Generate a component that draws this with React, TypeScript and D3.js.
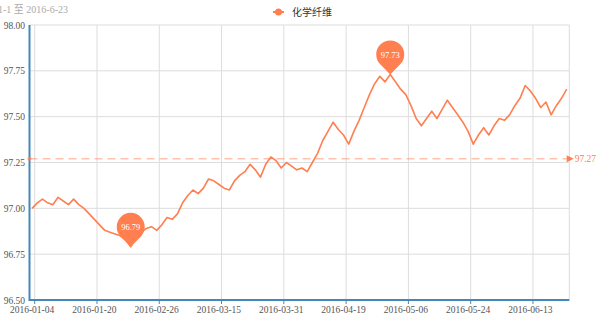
import React from "react";
import * as d3 from "d3";

const SERIES_NAME = "化学纤维";
const SUBTITLE = "2016-1-1 至 2016-6-23";

const dates: string[] = [
  "2016-01-04","2016-01-05","2016-01-06","2016-01-07","2016-01-08","2016-01-11","2016-01-12","2016-01-13","2016-01-14","2016-01-15","2016-01-18","2016-01-19",
  "2016-01-20","2016-01-21","2016-01-22","2016-01-25","2016-01-26","2016-01-27","2016-01-28","2016-01-29","2016-02-01","2016-02-02","2016-02-03","2016-02-04",
  "2016-02-26","2016-02-29","2016-03-01","2016-03-02","2016-03-03","2016-03-04","2016-03-07","2016-03-08","2016-03-09","2016-03-10","2016-03-11","2016-03-14",
  "2016-03-15","2016-03-16","2016-03-17","2016-03-18","2016-03-21","2016-03-22","2016-03-23","2016-03-24","2016-03-25","2016-03-28","2016-03-29","2016-03-30",
  "2016-03-31","2016-04-01","2016-04-05","2016-04-06","2016-04-07","2016-04-08","2016-04-11","2016-04-12","2016-04-13","2016-04-14","2016-04-15","2016-04-18",
  "2016-04-19","2016-04-20","2016-04-21","2016-04-22","2016-04-25","2016-04-26","2016-04-27","2016-04-28","2016-04-29","2016-05-03","2016-05-04","2016-05-05",
  "2016-05-06","2016-05-09","2016-05-10","2016-05-11","2016-05-12","2016-05-13","2016-05-16","2016-05-17","2016-05-18","2016-05-19","2016-05-20","2016-05-23",
  "2016-05-24","2016-05-25","2016-05-26","2016-05-27","2016-05-30","2016-05-31","2016-06-01","2016-06-02","2016-06-03","2016-06-06","2016-06-07","2016-06-08",
  "2016-06-13","2016-06-14","2016-06-15","2016-06-16","2016-06-17","2016-06-20","2016-06-21","2016-06-22",
];

const values: number[] = [
  97.00, 97.03, 97.05, 97.03, 97.02, 97.06, 97.04, 97.02, 97.05, 97.02, 97.00, 96.97,
  96.94, 96.91, 96.88, 96.87, 96.86, 96.85, 96.83, 96.79, 96.84, 96.87, 96.89, 96.90,
  96.88, 96.91, 96.95, 96.94, 96.97, 97.03, 97.07, 97.10, 97.08, 97.11, 97.16, 97.15,
  97.13, 97.11, 97.10, 97.15, 97.18, 97.20, 97.24, 97.21, 97.17, 97.24, 97.28, 97.26,
  97.22, 97.25, 97.23, 97.21, 97.22, 97.20, 97.25, 97.30, 97.37, 97.42, 97.47, 97.43,
  97.40, 97.35, 97.42, 97.48, 97.55, 97.62, 97.68, 97.72, 97.69, 97.73, 97.69, 97.65,
  97.62, 97.56, 97.49, 97.45, 97.49, 97.53, 97.49, 97.54, 97.59, 97.55, 97.51, 97.47,
  97.42, 97.35, 97.40, 97.44, 97.40, 97.45, 97.49, 97.48, 97.51, 97.56, 97.60, 97.67,
  97.64, 97.60, 97.55, 97.58, 97.51, 97.56, 97.60, 97.65,
];

const yTicks: number[] = [96.5, 96.75, 97.0, 97.25, 97.5, 97.75, 98.0];
const AVERAGE = 97.27;
const LABEL_INTERVAL = 12;

const COLOR = "#ff7f50";
const AXIS = "#4488bb";
const FONT = "'Liberation Serif', 'Noto Sans CJK SC', serif";

function pinPath(cx: number, ty: number, w: number, h: number): string {
  const r = w / 2;
  const cy = ty - h + r;
  const d = ty - cy;
  const th = Math.acos(r / d);
  const px = r * Math.sin(th);
  const py = cy + r * Math.cos(th);
  return `M${cx},${ty} L${cx - px},${py} A${r},${r} 0 1 1 ${cx + px},${py} Z`;
}

export default function App() {
  const W = 600, H = 326;
  const left = 29.5, right = 569.3, top = 25, bottom = 300;
  const x = d3.scaleBand<string>().domain(dates).range([left, right]);
  const bw = x.bandwidth();
  const cx = (d: string) => (x(d) as number) + bw / 2;
  const y = d3.scaleLinear().domain([96.5, 98]).range([bottom, top]);

  const line = d3
    .line<number>()
    .x((_, i) => cx(dates[i]))
    .y((v) => y(v));

  const tickIdx = dates.map((_, i) => i).filter((i) => i % LABEL_INTERVAL === 0);

  const maxV = d3.max(values) as number;
  const minV = d3.min(values) as number;
  const maxI = values.indexOf(maxV);
  const minI = values.indexOf(minV);

  const avgY = y(AVERAGE);
  const lastX = cx(dates[dates.length - 1]);

  return (
    <svg width={W} height={H} style={{ position: "absolute", left: 0, top: 0, background: "#fff" }}>
      {/* subtitle */}
      <text x={68} y={13} textAnchor="end" fontSize={10} fill="#aaa" fontFamily={FONT}>
        {SUBTITLE}
      </text>
      {/* legend */}
      <g>
        <line x1={273} x2={284} y1={12} y2={12} stroke={COLOR} strokeWidth={2} />
        <circle cx={278.5} cy={12} r={3.5} fill={COLOR} />
        <text x={292} y={15.5} fontSize={10} fill="#333" fontFamily={FONT}>
          {SERIES_NAME}
        </text>
      </g>
      {/* horizontal grid */}
      {yTicks.map((t) => (
        <line key={"h" + t} x1={left} x2={right} y1={y(t)} y2={y(t)} stroke="#ddd" strokeWidth={1} />
      ))}
      {/* vertical grid */}
      {tickIdx.map((i) => {
        const tx = (x(dates[i]) as number) + bw;
        return <line key={"v" + i} x1={tx} x2={tx} y1={top} y2={bottom} stroke="#ddd" strokeWidth={1} />;
      })}
      <line x1={right} x2={right} y1={top} y2={bottom} stroke="#ddd" strokeWidth={1} />
      {/* y labels */}
      {yTicks.map((t) => (
        <text key={"yl" + t} x={25} y={y(t) + 3.5} textAnchor="end" fontSize={9.5} fill="#555" fontFamily={FONT}>
          {t.toFixed(2)}
        </text>
      ))}
      {/* x ticks + labels */}
      {tickIdx.map((i) => {
        const tx = (x(dates[i]) as number) + bw;
        return (
          <g key={"xt" + i}>
            <line x1={tx} x2={tx} y1={bottom} y2={bottom + 4} stroke={AXIS} strokeWidth={1} />
            <text x={cx(dates[i])} y={313} textAnchor="middle" fontSize={9.5} fill="#555" fontFamily={FONT}>
              {dates[i]}
            </text>
          </g>
        );
      })}
      {/* axes */}
      <line x1={left} x2={left} y1={top} y2={bottom + 1} stroke={AXIS} strokeWidth={2} />
      <line x1={left} x2={right} y1={bottom} y2={bottom} stroke={AXIS} strokeWidth={2} />
      {/* average markLine */}
      <g>
        <line x1={left} x2={lastX} y1={avgY} y2={avgY} stroke={COLOR} strokeOpacity={0.7} strokeWidth={1} strokeDasharray="8,5" />
        <circle cx={left} cy={avgY} r={2} fill={COLOR} fillOpacity={0.8} />
        <path d={`M${lastX},${avgY - 3.5} L${lastX + 7},${avgY} L${lastX},${avgY + 3.5} Z`} fill={COLOR} />
        <text x={lastX + 8} y={avgY + 3.5} fontSize={9.5} fill={COLOR} fontFamily={FONT}>
          {AVERAGE.toFixed(2)}
        </text>
      </g>
      {/* series line */}
      <path d={line(values) as string} fill="none" stroke={COLOR} strokeWidth={1.6} strokeLinejoin="round" />
      {/* mark points */}
      {[
        { i: maxI, v: maxV },
        { i: minI, v: minV },
      ].map((m) => {
        const px = cx(dates[m.i]);
        const ty = y(m.v);
        return (
          <g key={"mp" + m.i}>
            <path d={pinPath(px, ty, 28, 34)} fill={COLOR} />
            <text x={px} y={ty - 17} textAnchor="middle" fontSize={8.5} fill="#fff" fontFamily={FONT}>
              {m.v.toFixed(2)}
            </text>
          </g>
        );
      })}
    </svg>
  );
}
